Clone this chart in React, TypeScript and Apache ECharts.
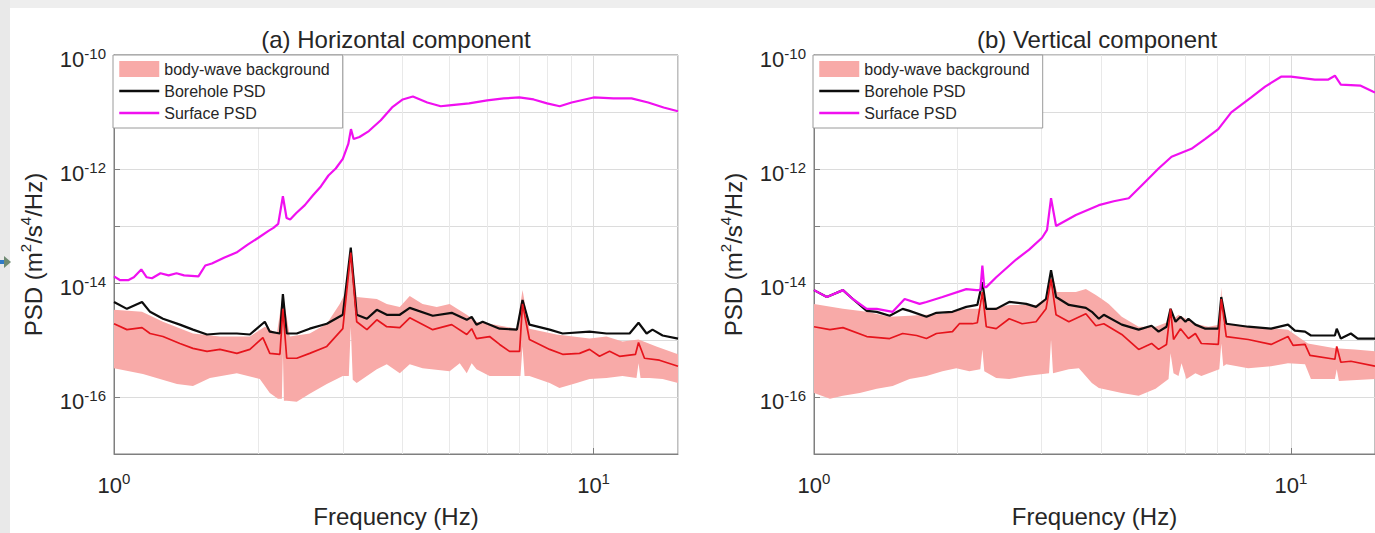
import React, { useEffect, useRef } from 'react';
import * as echarts from 'echarts';

// ---------- (a) Horizontal component ----------
const hSurfF = [1.0, 1.03, 1.07, 1.1, 1.14, 1.17, 1.2, 1.25, 1.3, 1.35, 1.4, 1.5, 1.55, 1.6, 1.7, 1.8, 1.9, 2.0, 2.1, 2.15, 2.2, 2.25, 2.29, 2.33, 2.4, 2.5, 2.6, 2.7, 2.8, 2.9, 3.0, 3.08, 3.12, 3.16, 3.25, 3.4, 3.6, 3.8, 4.0, 4.2, 4.5, 4.8, 5.0, 5.5, 6.0, 6.5, 7.0, 7.5, 8.0, 8.5, 9.0, 10, 11, 12, 13, 14, 15];
const hSurfV = [1.31e-14, 1.12e-14, 1.12e-14, 1.26e-14, 1.73e-14, 1.26e-14, 1.21e-14, 1.48e-14, 1.36e-14, 1.48e-14, 1.36e-14, 1.31e-14, 2.03e-14, 2.2e-14, 2.8e-14, 3.42e-14, 4.7e-14, 6.22e-14, 8.2e-14, 9.27e-14, 1.09e-13, 3.33e-13, 1.38e-13, 1.3e-13, 1.69e-13, 2.32e-13, 3.46e-13, 4.95e-13, 7.69e-13, 1.02e-12, 1.51e-12, 2.75e-12, 5.0e-12, 3.37e-12, 3.65e-12, 4.63e-12, 7.18e-12, 1.2e-11, 1.66e-11, 1.87e-11, 1.47e-11, 1.26e-11, 1.31e-11, 1.42e-11, 1.6e-11, 1.73e-11, 1.8e-11, 1.66e-11, 1.42e-11, 1.26e-11, 1.47e-11, 1.8e-11, 1.73e-11, 1.73e-11, 1.47e-11, 1.2e-11, 1.03e-11];

const hBoreF = [1.0, 1.064, 1.144, 1.189, 1.265, 1.372, 1.461, 1.563, 1.663, 1.804, 1.92, 2.063, 2.113, 2.218, 2.25, 2.292, 2.405, 2.559, 2.778, 3.0, 3.117, 3.207, 3.368, 3.532, 3.705, 3.944, 4.137, 4.62, 5.06, 5.44, 5.57, 5.70, 5.87, 6.37, 6.92, 7.11, 7.35, 8.1, 8.62, 9.81, 10.64, 11.89, 12.41, 12.9, 13.27, 13.93, 15];
const hBoreV = [4.65e-15, 3.52e-15, 4.65e-15, 3.12e-15, 2.36e-15, 1.86e-15, 1.52e-15, 1.25e-15, 1.3e-15, 1.3e-15, 1.25e-15, 2.09e-15, 1.4e-15, 1.3e-15, 6.4e-15, 1.3e-15, 1.3e-15, 1.58e-15, 1.93e-15, 2.77e-15, 4.17e-14, 2.77e-15, 2.36e-15, 3.38e-15, 2.77e-15, 2.77e-15, 3.66e-15, 2.66e-15, 3.0e-15, 2.26e-15, 2.55e-15, 1.86e-15, 2.09e-15, 1.58e-15, 1.52e-15, 5.04e-15, 1.86e-15, 1.52e-15, 1.3e-15, 1.4e-15, 1.3e-15, 1.3e-15, 2.01e-15, 1.3e-15, 1.52e-15, 1.2e-15, 1.06e-15];

const hMedF = [1.0, 1.064, 1.144, 1.189, 1.265, 1.372, 1.461, 1.563, 1.663, 1.804, 1.92, 2.044, 2.113, 2.218, 2.25, 2.292, 2.405, 2.559, 2.778, 3.0, 3.117, 3.207, 3.368, 3.532, 3.705, 3.944, 4.137, 4.62, 5.06, 5.44, 5.57, 5.70, 6.07, 6.37, 6.68, 7.01, 7.11, 7.35, 8.1, 8.62, 9.35, 9.81, 10.29, 10.8, 11.33, 12.23, 12.41, 12.77, 13.72, 15];
const hMedV = [1.93e-15, 1.52e-15, 1.65e-15, 1.3e-15, 1.15e-15, 8.69e-16, 7.13e-16, 6.32e-16, 6.84e-16, 5.83e-16, 6.84e-16, 1.1e-15, 5.83e-16, 5.61e-16, 3.52e-15, 4.78e-16, 4.78e-16, 5.83e-16, 7.71e-16, 1.58e-15, 3.42e-14, 2.09e-15, 1.52e-15, 2.26e-15, 1.71e-15, 1.65e-15, 2.45e-15, 1.52e-15, 1.86e-15, 1.25e-15, 1.58e-15, 1.06e-15, 1.15e-15, 8.36e-16, 6.32e-16, 6.32e-16, 4.3e-15, 1.02e-15, 6.84e-16, 5.61e-16, 5.83e-16, 6.84e-16, 5.18e-16, 6.32e-16, 5.18e-16, 5.61e-16, 9.06e-16, 4.78e-16, 4.42e-16, 3.47e-16];

const hBandHiF = [1.0, 1.144, 1.265, 1.461, 1.663, 1.92, 2.063, 2.186, 2.25, 2.326, 2.559, 2.778, 2.956, 3.059, 3.117, 3.207, 3.532, 3.705, 3.944, 4.137, 4.40, 4.71, 5.01, 5.44, 5.70, 6.07, 6.92, 7.11, 7.35, 8.37, 9.81, 10.64, 11.49, 12.41, 13.52, 15];
const hBandHiV = [3.38e-15, 3.12e-15, 2.09e-15, 1.3e-15, 1.15e-15, 1.15e-15, 1.71e-15, 1.3e-15, 6.4e-15, 1.15e-15, 1.3e-15, 1.93e-15, 4.3e-15, 7.5e-15, 4.17e-14, 5.68e-15, 5.24e-15, 4.3e-15, 3.81e-15, 5.9e-15, 4.3e-15, 3.81e-15, 4.3e-15, 2.77e-15, 2.09e-15, 1.93e-15, 1.58e-15, 7.5e-15, 1.58e-15, 1.25e-15, 1.06e-15, 1.15e-15, 9.42e-16, 1.02e-15, 7.71e-16, 5.61e-16];

const hBandLoF = [1.0, 1.149, 1.353, 1.461, 1.585, 1.804, 2.014, 2.113, 2.197, 2.239, 2.25, 2.261, 2.292, 2.405, 2.559, 2.778, 3.0, 3.088, 3.117, 3.147, 3.207, 3.532, 3.705, 3.944, 4.137, 4.40, 5.01, 5.26, 5.44, 5.57, 5.70, 6.07, 6.92, 7.04, 7.11, 7.18, 7.35, 8.1, 8.49, 9.22, 9.81, 10.64, 11.49, 12.29, 12.41, 12.53, 13.08, 13.93, 15];
const hBandLoV = [3.21e-16, 2.52e-16, 1.69e-16, 1.56e-16, 2.15e-16, 2.62e-16, 2.07e-16, 1.18e-16, 9.3e-17, 9.3e-17, 5.83e-16, 8.6e-17, 8.6e-17, 8.26e-17, 1.14e-16, 1.69e-16, 2.33e-16, 2.33e-16, 1.71e-15, 2.0e-16, 1.76e-16, 3.08e-16, 3.76e-16, 2.62e-16, 3.76e-16, 3.21e-16, 2.84e-16, 3.92e-16, 2.62e-16, 3.92e-16, 3.08e-16, 2.33e-16, 2.33e-16, 2.33e-16, 7.71e-16, 2.33e-16, 2.33e-16, 1.76e-16, 1.44e-16, 1.76e-16, 2.07e-16, 2.15e-16, 2.33e-16, 2.15e-16, 3.92e-16, 2.15e-16, 2.15e-16, 2.07e-16, 1.76e-16];

// ---------- (b) Vertical component ----------
const vSurfF = [1.0, 1.064, 1.15, 1.206, 1.29, 1.354, 1.462, 1.549, 1.665, 1.721, 1.859, 2.086, 2.19, 2.232, 2.254, 2.275, 2.297, 2.41, 2.653, 2.825, 3.007, 3.08, 3.14, 3.217, 3.54, 3.955, 4.25, 4.569, 4.862, 5.277, 5.618, 6.183, 6.613, 7.04, 7.494, 8.252, 8.826, 9.531, 10, 11.22, 11.95, 12.36, 12.72, 14.0, 14.84, 15];
const vSurfV = [7.5e-15, 5.68e-15, 7.5e-15, 5.24e-15, 3.52e-15, 3.52e-15, 3.12e-15, 5.24e-15, 4.3e-15, 4.65e-15, 5.68e-15, 7.82e-15, 7.5e-15, 7.5e-15, 2.03e-14, 8.46e-15, 8.46e-15, 1.26e-14, 2.58e-14, 3.85e-14, 6.22e-14, 8.55e-14, 3.07e-13, 1.0e-13, 1.56e-13, 2.32e-13, 2.72e-13, 3.07e-13, 5.15e-13, 1.02e-12, 1.64e-12, 2.26e-12, 3.37e-12, 5.01e-12, 9.88e-12, 1.8e-11, 2.79e-11, 4.16e-11, 4.16e-11, 3.69e-11, 3.69e-11, 4.33e-11, 3.02e-11, 2.9e-11, 2.29e-11, 2.2e-11];

const vBoreF = [1.0, 1.064, 1.15, 1.206, 1.29, 1.354, 1.441, 1.534, 1.586, 1.721, 1.806, 1.951, 2.086, 2.2, 2.254, 2.297, 2.41, 2.566, 2.785, 2.921, 3.065, 3.14, 3.217, 3.422, 3.715, 3.824, 3.955, 4.051, 4.418, 4.793, 5.102, 5.277, 5.483, 5.591, 5.727, 5.866, 6.008, 6.095, 6.303, 6.613, 7.04, 7.142, 7.316, 8.133, 9.084, 9.856, 10.19, 10.7, 11.01, 12.36, 12.47, 12.72, 13.35, 13.8, 15];
const vBoreV = [7.5e-15, 5.68e-15, 7.5e-15, 5.24e-15, 3.24e-15, 3.12e-15, 2.66e-15, 3.52e-15, 3.24e-15, 2.55e-15, 3.0e-15, 3.12e-15, 3.81e-15, 4.12e-15, 1.03e-14, 3.52e-15, 3.52e-15, 4.65e-15, 4.3e-15, 3.81e-15, 5.24e-15, 1.67e-14, 5.68e-15, 4.12e-15, 3.66e-15, 3.12e-15, 2.36e-15, 2.77e-15, 1.86e-15, 1.52e-15, 1.78e-15, 1.4e-15, 1.71e-15, 3.52e-15, 2.09e-15, 2.55e-15, 2.09e-15, 2.36e-15, 1.86e-15, 1.58e-15, 1.58e-15, 5.68e-15, 1.93e-15, 1.71e-15, 1.58e-15, 1.86e-15, 1.46e-15, 1.4e-15, 1.2e-15, 1.2e-15, 1.58e-15, 1.06e-15, 1.3e-15, 1.06e-15, 1.06e-15];

const vMedF = [1.0, 1.08, 1.15, 1.29, 1.441, 1.534, 1.641, 1.721, 1.806, 1.951, 2.017, 2.148, 2.2, 2.254, 2.297, 2.41, 2.566, 2.731, 2.921, 3.065, 3.14, 3.217, 3.422, 3.715, 3.898, 4.051, 4.418, 4.793, 5.102, 5.277, 5.483, 5.591, 5.672, 5.866, 6.095, 6.303, 6.487, 7.04, 7.142, 7.316, 8.133, 9.084, 9.856, 10.1, 10.7, 10.96, 12.36, 12.47, 12.72, 13.35, 15];
const vMedV = [1.71e-15, 1.52e-15, 1.65e-15, 1.15e-15, 1.06e-15, 1.3e-15, 1.2e-15, 1.06e-15, 1.3e-15, 1.4e-15, 1.93e-15, 1.93e-15, 2.01e-15, 6.93e-15, 1.71e-15, 1.58e-15, 2.36e-15, 1.93e-15, 2.09e-15, 3.52e-15, 1.16e-14, 2.77e-15, 2.09e-15, 2.88e-15, 1.78e-15, 1.93e-15, 1.25e-15, 6.84e-16, 8.69e-16, 6.84e-16, 8.36e-16, 3.52e-15, 1.02e-15, 1.58e-15, 1.06e-15, 1.3e-15, 8.69e-16, 8.36e-16, 5.24e-15, 1.15e-15, 1.02e-15, 8.36e-16, 1.15e-15, 8.03e-16, 8.36e-16, 5.38e-16, 4.59e-16, 7.71e-16, 4.07e-16, 4.24e-16, 3.47e-16];

const vBandHiF = [1.0, 1.15, 1.29, 1.441, 1.586, 1.859, 2.086, 2.232, 2.254, 2.275, 2.33, 2.566, 2.921, 3.08, 3.14, 3.232, 3.54, 3.715, 3.898, 4.012, 4.15, 4.418, 4.793, 5.201, 5.537, 5.591, 5.672, 5.81, 6.303, 6.709, 7.074, 7.142, 7.211, 7.387, 8.411, 9.856, 10.85, 12.36, 13.6, 15];
const vBandHiV = [4.3e-15, 3.52e-15, 3.12e-15, 2.55e-15, 2.66e-15, 2.88e-15, 3.52e-15, 3.52e-15, 9.16e-15, 3.52e-15, 3.52e-15, 4.12e-15, 4.12e-15, 5.68e-15, 1.67e-14, 6.93e-15, 6.93e-15, 7.82e-15, 6.15e-15, 5.24e-15, 4.3e-15, 2.55e-15, 1.71e-15, 1.71e-15, 2.09e-15, 3.52e-15, 2.36e-15, 2.77e-15, 1.93e-15, 1.71e-15, 1.86e-15, 8.46e-15, 1.93e-15, 1.93e-15, 1.71e-15, 1.52e-15, 8.69e-16, 7.13e-16, 6.84e-16, 6.32e-16];

const vBandLoF = [1.0, 1.08, 1.15, 1.247, 1.354, 1.462, 1.586, 1.721, 1.859, 1.988, 2.117, 2.232, 2.254, 2.275, 2.41, 2.566, 2.785, 3.11, 3.14, 3.17, 3.422, 3.592, 3.824, 3.955, 4.418, 4.793, 5.201, 5.537, 5.591, 5.672, 5.81, 5.894, 6.037, 6.303, 6.487, 7.074, 7.142, 7.211, 7.316, 8.133, 9.084, 9.856, 10.7, 11.01, 12.36, 12.47, 12.6, 15];
const vBandLoV = [1.18e-16, 9.3e-17, 1.05e-16, 1.18e-16, 1.39e-16, 1.56e-16, 2.07e-16, 2.33e-16, 2.84e-16, 3.21e-16, 2.84e-16, 3.08e-16, 6.84e-16, 2.84e-16, 2.15e-16, 2.07e-16, 2.33e-16, 2.62e-16, 1.02e-15, 2.62e-16, 3.08e-16, 3.21e-16, 1.76e-16, 1.44e-16, 1.18e-16, 1.05e-16, 1.39e-16, 2.07e-16, 5.83e-16, 2.62e-16, 2.33e-16, 3.92e-16, 2.07e-16, 2.62e-16, 2.33e-16, 3.08e-16, 8.69e-16, 3.47e-16, 3.76e-16, 3.21e-16, 3.47e-16, 3.92e-16, 3.76e-16, 2.07e-16, 2.07e-16, 3.08e-16, 1.91e-16, 2.07e-16];

// ---------- axes / grid ticks ----------
const X_MIN = 1;
const X_MAX = 15;
const Y_MIN = 1e-17;
const Y_MAX = 1e-10;
const X_MINOR = [2, 3, 4, 5, 6, 7, 8, 9];
const Y_DECADES = [1e-17, 1e-16, 1e-15, 1e-14, 1e-13, 1e-12, 1e-11];
const MINOR_MULTS = [2, 3, 4, 5, 6, 7, 8, 9];
const LEGEND_NAMES = ['body-wave background', 'Borehole PSD', 'Surface PSD'];
const TITLES = ['(a) Horizontal component', '(b) Vertical component'];

const PINK = '#f8aaa8';
const RED = '#e6141c';
const MAGENTA = '#f010f0';
const BLACK = '#0d0d0d';
const TXT = '#262626';
const AX = '#7f7f7f';
const FONT = '"Liberation Sans", Arial, Helvetica, sans-serif';

const PANELS = [
  { left: 114, width: 564, cx: 396 },
  { left: 814, width: 563, cx: 1097 },
];
const GRID_TOP = 55;
const GRID_H = 403;

const zip = (f: number[], v: number[]) => f.map((x, i) => [x, v[i]]);

const DATA = [
  { surf: zip(hSurfF, hSurfV), bore: zip(hBoreF, hBoreV), med: zip(hMedF, hMedV), hi: zip(hBandHiF, hBandHiV), lo: zip(hBandLoF, hBandLoV) },
  { surf: zip(vSurfF, vSurfV), bore: zip(vBoreF, vBoreV), med: zip(vMedF, vMedV), hi: zip(vBandHiF, vBandHiV), lo: zip(vBandLoF, vBandLoV) },
];

const Y_MINOR = Y_DECADES.flatMap((d) => MINOR_MULTS.map((m) => m * d));

const powLabel = (every: number) => (v: number) => {
  const e = Math.log10(v);
  const r = Math.round(e);
  if (Math.abs(e - r) > 1e-6 || Math.abs(r % every) !== 0) return '';
  return `{b|10}{s|${r}}`;
};

const tickRich = {
  b: { fontSize: 22, lineHeight: 28, color: TXT, fontFamily: FONT },
  s: { fontSize: 15, lineHeight: 8, verticalAlign: 'top', color: TXT, fontFamily: FONT },
};

function buildOption() {
  const grid = PANELS.map((p) => ({ left: p.left, width: p.width, top: GRID_TOP, height: GRID_H, show: true, borderColor: AX, borderWidth: 1, backgroundColor: 'transparent' }));

  const xAxis = PANELS.map((_, i) => ({
    type: 'log', logBase: 10, gridIndex: i, min: X_MIN, max: X_MAX,
    axisLine: { show: true, lineStyle: { color: AX } },
    axisTick: { show: true, inside: true, length: 6, lineStyle: { color: AX } },
    axisLabel: { formatter: powLabel(1), rich: tickRich, margin: 17, showMaxLabel: false },
    splitLine: { show: true, lineStyle: { color: '#dcdcdc', width: 1 } },
    name: 'Frequency (Hz)', nameLocation: 'middle', nameGap: 50,
    nameTextStyle: { fontSize: 24, color: TXT, fontFamily: FONT },
  }));

  const yAxis = PANELS.map((_, i) => ({
    type: 'log', logBase: 10, gridIndex: i, min: Y_MIN, max: Y_MAX,
    axisLine: { show: true, lineStyle: { color: AX } },
    axisTick: { show: true, inside: true, length: 6, lineStyle: { color: AX } },
    axisLabel: { formatter: powLabel(2), rich: tickRich, margin: 8, padding: [9, 0, 0, 0] },
    splitLine: { show: true, lineStyle: { color: '#dcdcdc', width: 1 } },
    name: 'PSD (m{s|2}/s{s|4}/Hz)', nameLocation: 'middle', nameGap: 66, nameRotate: 90,
    nameTextStyle: {
      fontSize: 24, color: TXT, fontFamily: FONT, lineHeight: 30,
      rich: { s: { fontSize: 15, lineHeight: 12, verticalAlign: 'top', color: TXT, fontFamily: FONT } },
    },
  }));

  const series: any[] = [];
  DATA.forEach((d, i) => {
    series.push({
      type: 'line', name: 'gridlines-' + i, xAxisIndex: i, yAxisIndex: i, z: 1,
      data: [[X_MIN, Y_MIN]], symbol: 'none', lineStyle: { width: 0, opacity: 0 }, silent: true,
      markLine: {
        z: 1, zlevel: 0,
        silent: true, symbol: ['none', 'none'], label: { show: false }, animation: false,
        lineStyle: { color: '#e9e9e9', width: 1, type: 'solid' },
        emphasis: { disabled: true },
        data: [...X_MINOR.map((v) => ({ xAxis: v })), ...Y_MINOR.map((v) => ({ yAxis: v }))],
      },
    });
    const hi = d.hi;
    const lo = d.lo;
    series.push({
      type: 'custom', name: LEGEND_NAMES[0], xAxisIndex: i, yAxisIndex: i, z: 3,
      data: [hi[0]], encode: { x: 0, y: 1 }, clip: true, silent: true,
      itemStyle: { color: PINK },
      renderItem: (_p: any, api: any) => {
        const pts: number[][] = [];
        hi.forEach((pt) => pts.push(api.coord(pt)));
        for (let k = lo.length - 1; k >= 0; k--) pts.push(api.coord(lo[k]));
        return { type: 'polygon', shape: { points: pts }, style: { fill: PINK, stroke: null } };
      },
    });
    series.push({
      type: 'line', name: LEGEND_NAMES[1], xAxisIndex: i, yAxisIndex: i, z: 3,
      data: d.bore, symbol: 'none', lineStyle: { color: BLACK, width: 2.2 }, itemStyle: { color: BLACK }, silent: true,
    });
    series.push({
      type: 'line', name: 'body-wave median', xAxisIndex: i, yAxisIndex: i, z: 3,
      data: d.med, symbol: 'none', lineStyle: { color: RED, width: 1.7 }, itemStyle: { color: RED }, silent: true,
    });
    series.push({
      type: 'line', name: LEGEND_NAMES[2], xAxisIndex: i, yAxisIndex: i, z: 3,
      data: d.surf, symbol: 'none', lineStyle: { color: MAGENTA, width: 2.2 }, itemStyle: { color: MAGENTA }, silent: true,
    });
  });

  const legend = PANELS.map((p) => ({
    left: p.left - 1, top: GRID_TOP, orient: 'vertical',
    data: [
      { name: LEGEND_NAMES[0], icon: 'rect' },
      { name: LEGEND_NAMES[1], itemStyle: { opacity: 0 }, lineStyle: { width: 2.5 } },
      { name: LEGEND_NAMES[2], itemStyle: { opacity: 0 }, lineStyle: { width: 2.5 } },
    ],
    itemWidth: 40, itemHeight: 16, itemGap: 6, padding: [6, 13, 7, 5],
    backgroundColor: '#fff', borderColor: '#9a9a9a', borderWidth: 1, borderRadius: 0,
    textStyle: { fontSize: 16, color: TXT, fontFamily: FONT },
    selectedMode: false,
  }));

  const graphic: any[] = [
    { type: 'rect', z: 100, shape: { x: 0, y: 0, width: 1375, height: 8 }, style: { fill: '#eeeeee' } },
    { type: 'rect', z: 100, shape: { x: 0, y: 0, width: 10, height: 533 }, style: { fill: '#e9e9e9' } },
    { type: 'rect', z: 101, shape: { x: 0, y: 260, width: 5, height: 4 }, style: { fill: '#2f7ac8' } },
    { type: 'polygon', z: 101, shape: { points: [[4, 256], [11, 262], [4, 268]] }, style: { fill: '#6f8a72' } },
    ...PANELS.map((p, i) => ({
      type: 'text', x: p.cx, y: 39, z: 100,
      style: { text: TITLES[i], fontSize: 24, fontFamily: FONT, fill: TXT, textAlign: 'center', textVerticalAlign: 'middle' },
    })),
  ];

  return {
    animation: false,
    backgroundColor: '#ffffff',
    textStyle: { fontFamily: FONT },
    grid, xAxis, yAxis, series, legend, graphic,
  };
}

export default function App() {
  const ref = useRef<HTMLDivElement>(null);
  useEffect(() => {
    if (!ref.current) return;
    const chart = echarts.init(ref.current, null, { renderer: 'svg' });
    chart.setOption(buildOption() as any);
    return () => chart.dispose();
  }, []);
  return <div ref={ref} style={{ position: 'absolute', left: 0, top: 0, width: 1375, height: 533, background: '#fff' }} />;
}
